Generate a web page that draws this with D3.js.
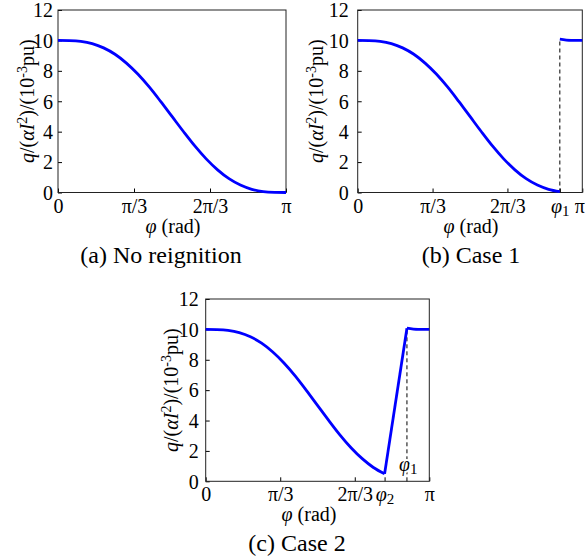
<!DOCTYPE html>
<html>
<head>
<meta charset="utf-8">
<script src="https://cdn.jsdelivr.net/npm/d3@7/dist/d3.min.js"></script>
<style>
  html, body { margin: 0; padding: 0; background: #fff; }
  svg { display: block; }
  text { font-family: "Liberation Serif", "Times New Roman", serif; fill: #000; }
</style>
</head>
<body>
<svg id="chart" width="585" height="560"></svg>
<script>
// ---- data (angles in units of π) ----
const phiBase = [0, 0.05, 0.10, 0.15, 0.20, 0.25, 0.30, 0.35, 0.40, 0.45, 0.50,
                 0.55, 0.60, 0.65, 0.70, 0.75, 0.80, 0.85, 0.90, 0.95, 1.00];
const qBase   = [10.0, 9.99, 9.94, 9.79, 9.51, 9.09, 8.51, 7.79, 6.94, 5.99, 5.00,
                 4.01, 3.06, 2.21, 1.49, 0.91, 0.49, 0.21, 0.06, 0.01, 0.0];
const phi1 = 0.9;
const phi2 = 0.8;
const reignPhi = [0.90, 0.95, 1.00];
const reignQ   = [10.08, 10.0, 10.0];
const yTicks = [0, 2, 4, 6, 8, 10, 12];
const xTicksA = [0, 1/3, 2/3, 1];
const xLabelsA = ["0", "π/3", "2π/3", "π"];
const xTicksB = [0, 1/3, 2/3, 0.9, 1];
const xLabelsB = ["0", "π/3", "2π/3", "φ1", "π"];
const xTicksC = [0, 1/3, 2/3, 0.8, 1];
const xLabelsC = ["0", "π/3", "2π/3", "φ2", "π"];
const captions = ["(a) No reignition", "(b) Case 1", "(c) Case 2"];

// ---- build series ----
const seriesA = [phiBase.map((p, i) => [p, qBase[i]])];
const seriesB = [
  phiBase.map((p, i) => [p, qBase[i]]).filter(d => d[0] <= phi1 + 1e-9),
  reignPhi.map((p, i) => [p, reignQ[i]])
];
const cCurve = phiBase.map((p, i) => [p, qBase[i]]).filter(d => d[0] <= phi2 + 1e-9);
const seriesC = [
  cCurve,
  [[phi2, qBase[phiBase.indexOf(phi2)]], [phi1, reignQ[0]]],
  reignPhi.map((p, i) => [p, reignQ[i]])
];

const svg = d3.select("#chart");

const panels = [
  { L: 58, R: 286, T: 10, B: 192.5, ylabX: 27, capX: 161, axLabX: 173, yTickX: -5,
    ticks: xTicksA, labels: xLabelsA, series: seriesA, dashed: null, caption: captions[0] },
  { L: 357.7, R: 582.3, T: 10, B: 192.5, ylabX: 316, capX: 471, axLabX: 471, yTickX: -9,
    ticks: xTicksB, labels: xLabelsB, series: seriesB, dashed: { x: phi1, y: reignQ[0] }, caption: captions[1] },
  { L: 205.7, R: 429.3, T: 299, B: 481.3, ylabX: 171, capX: 297, axLabX: 309, yTickX: -7,
    ticks: xTicksC, labels: xLabelsC, series: seriesC, dashed: { x: phi1, y: reignQ[0], label: true }, caption: captions[2] }
];

function setSubLabel(sel, lab) {
  if (lab.startsWith("φ")) {
    sel.text(null);
    sel.append("tspan").style("font-style", "italic").text("φ");
    sel.append("tspan").attr("font-size", "15px").attr("dy", "3").text(lab.slice(1));
  }
}

panels.forEach(p => {
  const x = d3.scaleLinear().domain([0, 1]).range([p.L, p.R]);
  const y = d3.scaleLinear().domain([0, 12]).range([p.B, p.T]);
  const g = svg.append("g");

  // x axis
  const xa = g.append("g").attr("transform", `translate(0,${p.B})`)
    .call(d3.axisBottom(x).tickValues(p.ticks)
      .tickFormat((d, i) => p.labels[i]).tickSizeInner(-4).tickSizeOuter(0));
  xa.select(".domain").remove();
  xa.selectAll(".tick line").attr("stroke", "#000");
  xa.selectAll(".tick text").attr("y", 20).attr("dy", 0)
    .attr("font-size", "20px").attr("fill", "#000")
    .each(function (d, i) { setSubLabel(d3.select(this), p.labels[i]); })
    .attr("dx", (d) => (p.R > 570 && d === 1) ? -3 : 0);

  // y axis
  const ya = g.append("g").attr("transform", `translate(${p.L},0)`)
    .call(d3.axisLeft(y).tickValues(yTicks).tickFormat(d3.format("d"))
      .tickSizeInner(-4).tickSizeOuter(0));
  ya.select(".domain").remove();
  ya.selectAll(".tick line").attr("stroke", "#000");
  ya.selectAll(".tick text").attr("x", p.yTickX).attr("dy", "0.34em")
    .attr("font-size", "20px").attr("fill", "#000");

  // frame
  g.append("rect").attr("x", p.L).attr("y", p.T)
    .attr("width", p.R - p.L).attr("height", p.B - p.T)
    .attr("fill", "none").attr("stroke", "#222").attr("stroke-width", 1);

  // dashed marker
  if (p.dashed) {
    g.append("line")
      .attr("x1", x(p.dashed.x)).attr("x2", x(p.dashed.x))
      .attr("y1", y(0)).attr("y2", y(p.dashed.y))
      .attr("stroke", "#000").attr("stroke-width", 1)
      .attr("stroke-dasharray", "4,3");
  }

  // curves
  const line = d3.line().x(d => x(d[0])).y(d => y(d[1])).curve(d3.curveMonotoneX);
  p.series.forEach(s => {
    g.append("path").datum(s).attr("d", line)
      .attr("fill", "none").attr("stroke", "#0000ff")
      .attr("stroke-width", 2.8).attr("stroke-linejoin", "round");
  });

  // φ1 label inside plot (c)
  if (p.dashed && p.dashed.label) {
    const t = g.append("text").attr("x", x(p.dashed.x) - 8).attr("y", p.B - 10)
      .attr("font-size", "20px")
      .attr("stroke", "#fff").attr("stroke-width", 4).attr("paint-order", "stroke");
    t.append("tspan").style("font-style", "italic").text("φ");
    t.append("tspan").attr("font-size", "15px").attr("dy", "3").text("1");
  }

  // y label
  const yl = g.append("text")
    .attr("transform", `translate(${p.ylabX},${(p.T + p.B) / 2}) rotate(-90)`)
    .attr("text-anchor", "middle").attr("dy", "0.35em").attr("font-size", "20px");
  yl.append("tspan").style("font-style", "italic").text("q");
  yl.append("tspan").text("/(");
  yl.append("tspan").style("font-style", "italic").text("αI");
  yl.append("tspan").attr("font-size", "14px").attr("dy", "-7").text("2");
  yl.append("tspan").attr("dy", "7").text(")/(10");
  yl.append("tspan").attr("font-size", "14px").attr("dy", "-7").text("-3");
  yl.append("tspan").attr("dy", "7").text("pu)");

  // x label
  const xl = g.append("text").attr("x", p.axLabX).attr("y", p.B + 40)
    .attr("text-anchor", "middle").attr("font-size", "20px");
  xl.append("tspan").style("font-style", "italic").text("φ");
  xl.append("tspan").text(" (rad)");

  // caption
  g.append("text").attr("x", p.capX).attr("y", p.B + 70)
    .attr("text-anchor", "middle").attr("font-size", "24px").text(p.caption);
});
</script>
</body>
</html>
